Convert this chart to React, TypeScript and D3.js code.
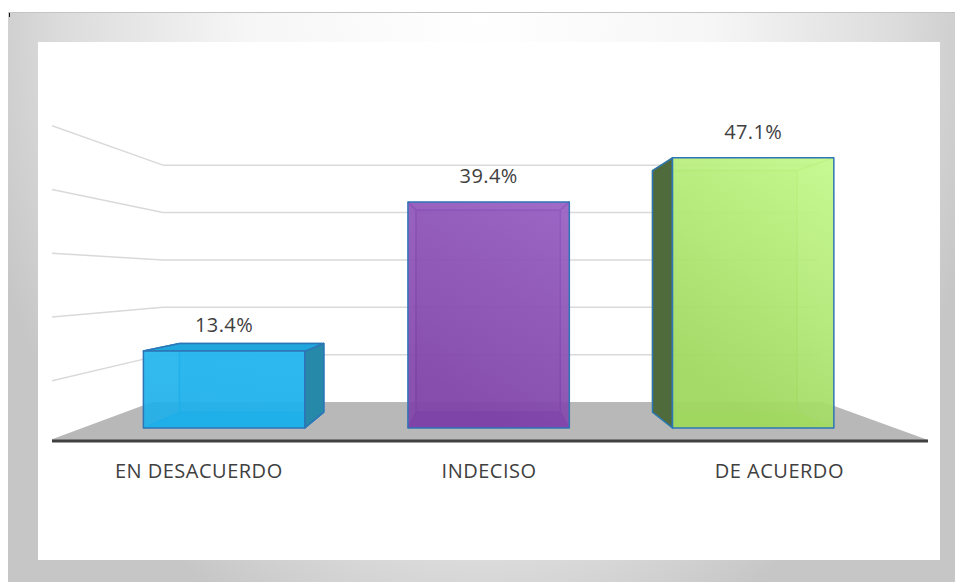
import React from "react";
import * as d3 from "d3";

const categories = ["EN DESACUERDO", "INDECISO", "DE ACUERDO"];
const values = [13.4, 39.4, 47.1];
const valueLabels = ["13.4%", "39.4%", "47.1%"];
const gridTicks = [10, 20, 30, 40, 50];

const barColors = [
  { front0: "#22b6ef", front1: "#1fb0ea", top: "#1fa6dc", side: "#2689aa", bottom: "#1aa2dc", inner: "#1590cc" },
  { front0: "#975fc3", front1: "#8044a8", top: "#7e45aa", side: "#6c3a98", bottom: "#7440a3", inner: "#6630a0" },
  { front0: "#c3f98a", front1: "#a0d860", top: "#8fbf5a", side: "#4f6a3b", bottom: "#93ca58", inner: "#90c860" },
];

const VP: [number, number] = [484, 279];
const S_WALL = 0.764;
const S_FRONT = 0.925;
const S_BACK = 0.827;

function proj(X: number, Y: number, s: number): [number, number] {
  return [VP[0] + (X - VP[0]) * s, VP[1] + (Y - VP[1]) * s];
}
const pts = (a: [number, number][]) => a.map((p) => p.join(",")).join(" ");

export default function App() {
  const x = d3.scaleBand<string>().domain(categories).range([60, 918]).paddingInner(0.39).paddingOuter(0.195);
  const y = d3.scaleLinear().domain([0, 50]).range([440, 130]);
  const font = "'Open Sans', 'DejaVu Sans', sans-serif";

  const wallL = 63.8;
  const wallR = 921;
  const floorL = 50;
  const floorR = 928;
  const y0 = y(0);

  const floorPoly = [proj(floorL, y0, 1), proj(floorR, y0, 1), proj(floorR, y0, S_WALL), proj(floorL, y0, S_WALL)];

  return (
    <svg width={955} height={582} style={{ position: "absolute", left: 0, top: 0 }}>
      <defs>
        <radialGradient id="frameGrad" gradientUnits="userSpaceOnUse" cx={480} cy={10} r={520}
          gradientTransform="translate(480,10) scale(1,1.3) translate(-480,-10)">
          <stop offset="0" stopColor="#ffffff" />
          <stop offset="0.45" stopColor="#f6f6f6" />
          <stop offset="0.8" stopColor="#dcdcdc" />
          <stop offset="1" stopColor="#c6c6c6" />
        </radialGradient>
        {barColors.map((c, i) => (
          <linearGradient key={i} id={`fg${i}`} x1="1" y1="0" x2="0.6" y2="1">
            <stop offset="0" stopColor={c.front0} />
            <stop offset="1" stopColor={c.front1} />
          </linearGradient>
        ))}
        <clipPath id="plotClip">
          <rect x={52} y={42} width={888} height={518} />
        </clipPath>
      </defs>

      <rect x={8} y={12} width={947} height={570} fill="url(#frameGrad)" />
      <line x1={8} x2={955} y1={12.5} y2={12.5} stroke="#c4c4c4" strokeWidth={1} />
      <rect x={9} y={13} width={1} height={4} fill="#111" />
      <rect x={38} y={42} width={902} height={518} fill="#ffffff" />

      <g clipPath="url(#plotClip)">
        <polygon points={pts(floorPoly)} fill="#b8b8b8" />
        {gridTicks.map((t) => {
          const a = proj(wallL, y(t), S_WALL);
          const b = proj(wallR, y(t), S_WALL);
          const sl = (VP[0] - 52) / (VP[0] - wallL);
          const c = proj(wallL, y(t), sl);
          return (
            <g key={t}>
              <line x1={a[0]} y1={a[1]} x2={b[0]} y2={b[1]} stroke="#d9d9d9" strokeWidth={1.5} />
              <line x1={c[0]} y1={c[1]} x2={a[0]} y2={a[1]} stroke="#d9d9d9" strokeWidth={1.5} />
            </g>
          );
        })}

        {categories.map((cat, i) => {
          const c = barColors[i];
          const X0 = x(cat)!;
          const X1 = X0 + x.bandwidth();
          const Yt = y(values[i]);
          const FTL = proj(X0, Yt, S_FRONT), FTR = proj(X1, Yt, S_FRONT);
          const FBL = proj(X0, y0, S_FRONT), FBR = proj(X1, y0, S_FRONT);
          const BTL = proj(X0, Yt, S_BACK), BTR = proj(X1, Yt, S_BACK);
          const BBL = proj(X0, y0, S_BACK), BBR = proj(X1, y0, S_BACK);
          const showTop = FTL[1] > VP[1];
          const showRight = FTR[0] < VP[0] - 10;
          const showLeft = FTL[0] > VP[0] + 10;
          const edges: [[number, number], [number, number]][] = [
            [BTL, BTR], [BTR, BBR], [BBR, BBL], [BBL, BTL],
            [FTL, BTL], [FTR, BTR], [FBL, BBL], [FBR, BBR],
          ];
          return (
            <g key={cat}>
              <polygon points={pts([BTL, BTR, BBR, BBL])} fill={c.front1} fillOpacity={0.35} />
              <polygon points={pts([FBL, FBR, BBR, BBL])} fill={c.bottom} />
              {edges.map((e, k) => (
                <line key={k} x1={e[0][0]} y1={e[0][1]} x2={e[1][0]} y2={e[1][1]} stroke={c.inner} strokeWidth={1.6} />
              ))}
              {showRight && (
                <polygon points={pts([FTR, BTR, BBR, FBR])} fill={c.side} stroke="#2e75b6" strokeWidth={1.5} strokeLinejoin="round" />
              )}
              {showLeft && (
                <polygon points={pts([FTL, BTL, BBL, FBL])} fill={c.side} stroke="#2e75b6" strokeWidth={1.5} strokeLinejoin="round" />
              )}
              {showTop && (
                <polygon points={pts([FTL, FTR, BTR, BTL])} fill={c.top} stroke="#2e75b6" strokeWidth={1.5} strokeLinejoin="round" />
              )}
              <polygon points={pts([FTL, FTR, FBR, FBL])} fill={`url(#fg${i})`} fillOpacity={0.92} stroke="#2e75b6" strokeWidth={1.5} strokeLinejoin="round" />
              <text x={(FTL[0] + FTR[0]) / 2} y={FTL[1] - 19} textAnchor="middle" fontFamily={font} fontSize={20} letterSpacing={0.4} fill="#404040">
                {valueLabels[i]}
              </text>
            </g>
          );
        })}

        <line x1={floorL} x2={floorR} y1={y0 + 1} y2={y0 + 1} stroke="#404040" strokeWidth={3} />
      </g>

      {categories.map((cat) => {
        const cx = VP[0] + (x(cat)! + x.bandwidth() / 2 - VP[0]) * 1.015;
        return (
          <text key={cat} x={cx} y={478} textAnchor="middle" fontFamily={font} fontSize={20} letterSpacing={0.5} fill="#404040">
            {cat}
          </text>
        );
      })}
    </svg>
  );
}
